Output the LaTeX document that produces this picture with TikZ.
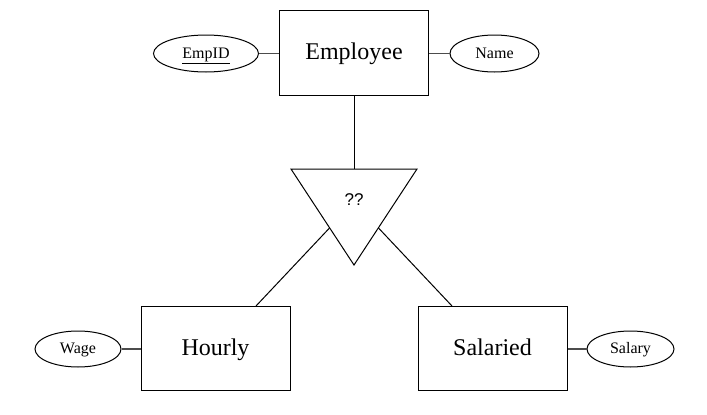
\documentclass[tikz,border=0pt]{standalone}
\usepackage{fontspec}
\setmainfont{Liberation Serif}
\newfontfamily\qfont{Liberation Sans}
\usetikzlibrary{shapes.geometric}
\begin{document}
\begin{tikzpicture}[x=1pt,y=-1pt,
  entity/.style={draw,line width=1pt,inner sep=0pt,text height=18pt,text depth=4pt,font=\fontsize{24}{28}\selectfont},
  attr/.style={draw,ellipse,line width=1pt,inner sep=0pt,text height=12pt,text depth=3pt,font=\fontsize{16}{19}\selectfont},
  link/.style={line width=1pt},
  alink/.style={line width=1.4pt,black!70}]
\useasboundingbox[fill=white] (0,0) rectangle (707,415);
% entities
\node[entity,minimum width=149pt,minimum height=85pt] (emp) at (354,52.5) {Employee};
\node[entity,minimum width=149pt,minimum height=84pt] (hourly) at (215.5,348) {Hourly};
\node[entity,minimum width=149pt,minimum height=84pt] (salaried) at (492.5,348) {Salaried};
% attributes
\node[attr,minimum width=105pt,minimum height=37pt] (empid) at (206,53.5) {\underline{EmpID}};
\node[attr,minimum width=89pt,minimum height=37pt] (name) at (494.5,53.5) {Name};
\node[attr,minimum width=86pt,minimum height=36pt] (wage) at (78,349) {Wage};
\node[attr,minimum width=87pt,minimum height=36pt] (salary) at (630.5,349) {Salary};
% specialization triangle
\coordinate (tA) at (291,169);
\coordinate (tB) at (417,169);
\coordinate (tC) at (354,265);
\coordinate (tTop) at (354,169);
\draw[line width=1pt,line join=miter] (tA) -- (tB) -- (tC) -- cycle;
\node[font=\qfont\fontsize{17}{20}\selectfont,inner sep=0pt] (q) at (354,200) {??};
\coordinate (tL) at (329.5,228);
\coordinate (tR) at (378.5,228);
\coordinate (hT) at (256,306);
\coordinate (sT) at (452,306);
% connectors
\draw[link] (emp.south) -- (tTop);
\draw[link] (tL) -- (hT);
\draw[link] (tR) -- (sT);
\draw[alink] (empid.east) -- (emp.west |- empid.east);
\draw[alink] (name.west) -- (emp.east |- name.west);
\draw[alink] (wage.east) -- (hourly.west |- wage.east);
\draw[alink] (salary.west) -- (salaried.east |- salary.west);
\end{tikzpicture}
\end{document}
